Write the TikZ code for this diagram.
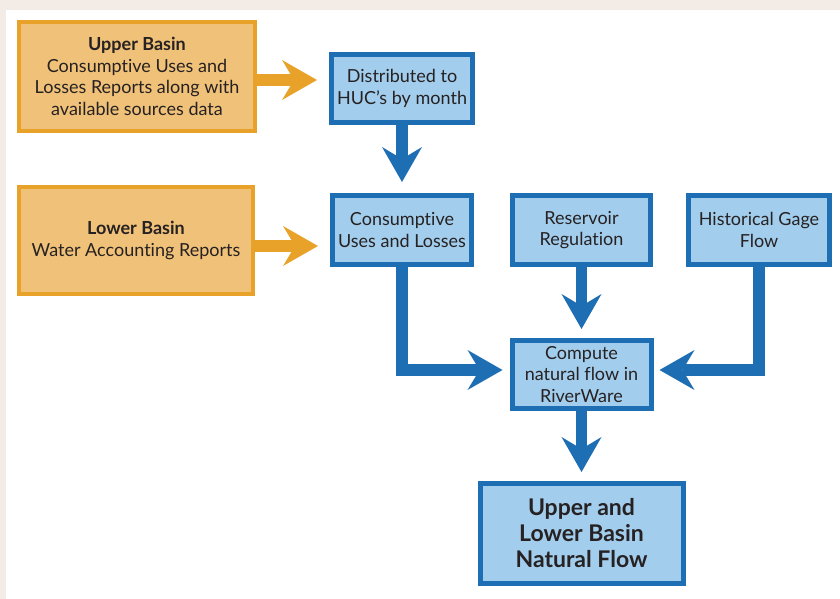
\documentclass[tikz,border=0pt]{standalone}
\usepackage{fontspec}
\setmainfont{Lato}[Ligatures=NoCommon]
\usepackage{xcolor}
\usepackage{tikz}
\usetikzlibrary{arrows.meta,positioning,shadows}

\definecolor{ochre}{HTML}{E8A22A}
\definecolor{sand}{HTML}{F0C178}
\definecolor{deepblue}{HTML}{1E6EB4}
\definecolor{skyblue}{HTML}{A2CDEC}
\definecolor{ink}{HTML}{262122}
\definecolor{paper}{HTML}{F3ECE6}

\begin{document}
\begin{tikzpicture}[x=1pt,y=1pt, every node/.style={font=\fontsize{18}{21.5}\selectfont,text=ink},
  src/.style={draw=ochre,line width=4pt,fill=sand,align=center,minimum width=234pt,minimum height=107pt,
    drop shadow={opacity=0.2,shadow xshift=2pt,shadow yshift=-2pt}},
  stage/.style={draw=deepblue,line width=5pt,fill=skyblue,align=center,inner sep=2pt,minimum width=139pt,minimum height=69pt,
    drop shadow={opacity=0.2,shadow xshift=2pt,shadow yshift=-2pt}},
  oarr/.style={draw=ochre,line width=12pt,-{Stealth[length=35pt,width=40pt,inset=12pt,line width=0pt]}},
  barr/.style={draw=deepblue,line width=11.5pt,-{Stealth[length=35pt,width=40pt,inset=12pt,line width=0pt]}}]
  % page and margins
  \fill[paper] (0,0) rectangle (840,-599);
  \fill[white] (6,-10) rectangle (840,-599);
  \useasboundingbox (0,0) rectangle (840,-599);
  % sources
  \node[src,minimum width=236pt,minimum height=109pt] (up) at (137,-76.5) {\textbf{Upper Basin}\\Consumptive Uses and\\Losses Reports along with\\available sources data};
  \node[src] (low) at (136,-240.5) {\textbf{Lower Basin}\\Water Accounting Reports};
  % processing
  \node[stage] (cons) at (402,-230) {Consumptive\\Uses and Losses};
  \node[stage,minimum width=141pt,minimum height=68pt,above=68pt of cons] (dist) {Distributed to\\HUC’s by month};
  \node[stage,minimum width=138pt,right=36pt of cons] (res) {Reservoir\\Regulation};
  \node[stage,minimum width=141pt,right=33pt of res] (hist) {Historical Gage\\Flow};
  \node[stage,minimum height=68pt,below=71pt of res] (comp) {Compute\\natural flow in\\RiverWare};
  \node[stage,minimum width=203pt,minimum height=100pt,below=70pt of comp,
    font=\fontsize{23}{26}\selectfont\bfseries] (nat) {Upper and\\Lower Basin\\Natural Flow};
  % connectors
  \draw[oarr,shorten >=12pt] ([yshift=-3.5pt]up.east) -- ([yshift=-3.5pt]up.east -| dist.west);
  \draw[oarr,shorten >=12pt] ([yshift=-5.5pt]low.east) -- ([yshift=-5.5pt]low.east -| cons.west);
  \draw[barr,shorten >=11pt] (dist.south) -- (dist.south |- cons.north);
  \draw[barr,shorten >=9pt] (res.south) -- (res.south |- comp.north);
  \draw[barr,shorten >=9pt] (comp.south) -- (nat.north);
  \draw[barr,shorten >=7pt] (cons.south) |- ([yshift=4.5pt]comp.west);
  \draw[barr,shorten >=6pt] (hist.south) |- ([yshift=4.5pt]comp.east);
\end{tikzpicture}
\end{document}
